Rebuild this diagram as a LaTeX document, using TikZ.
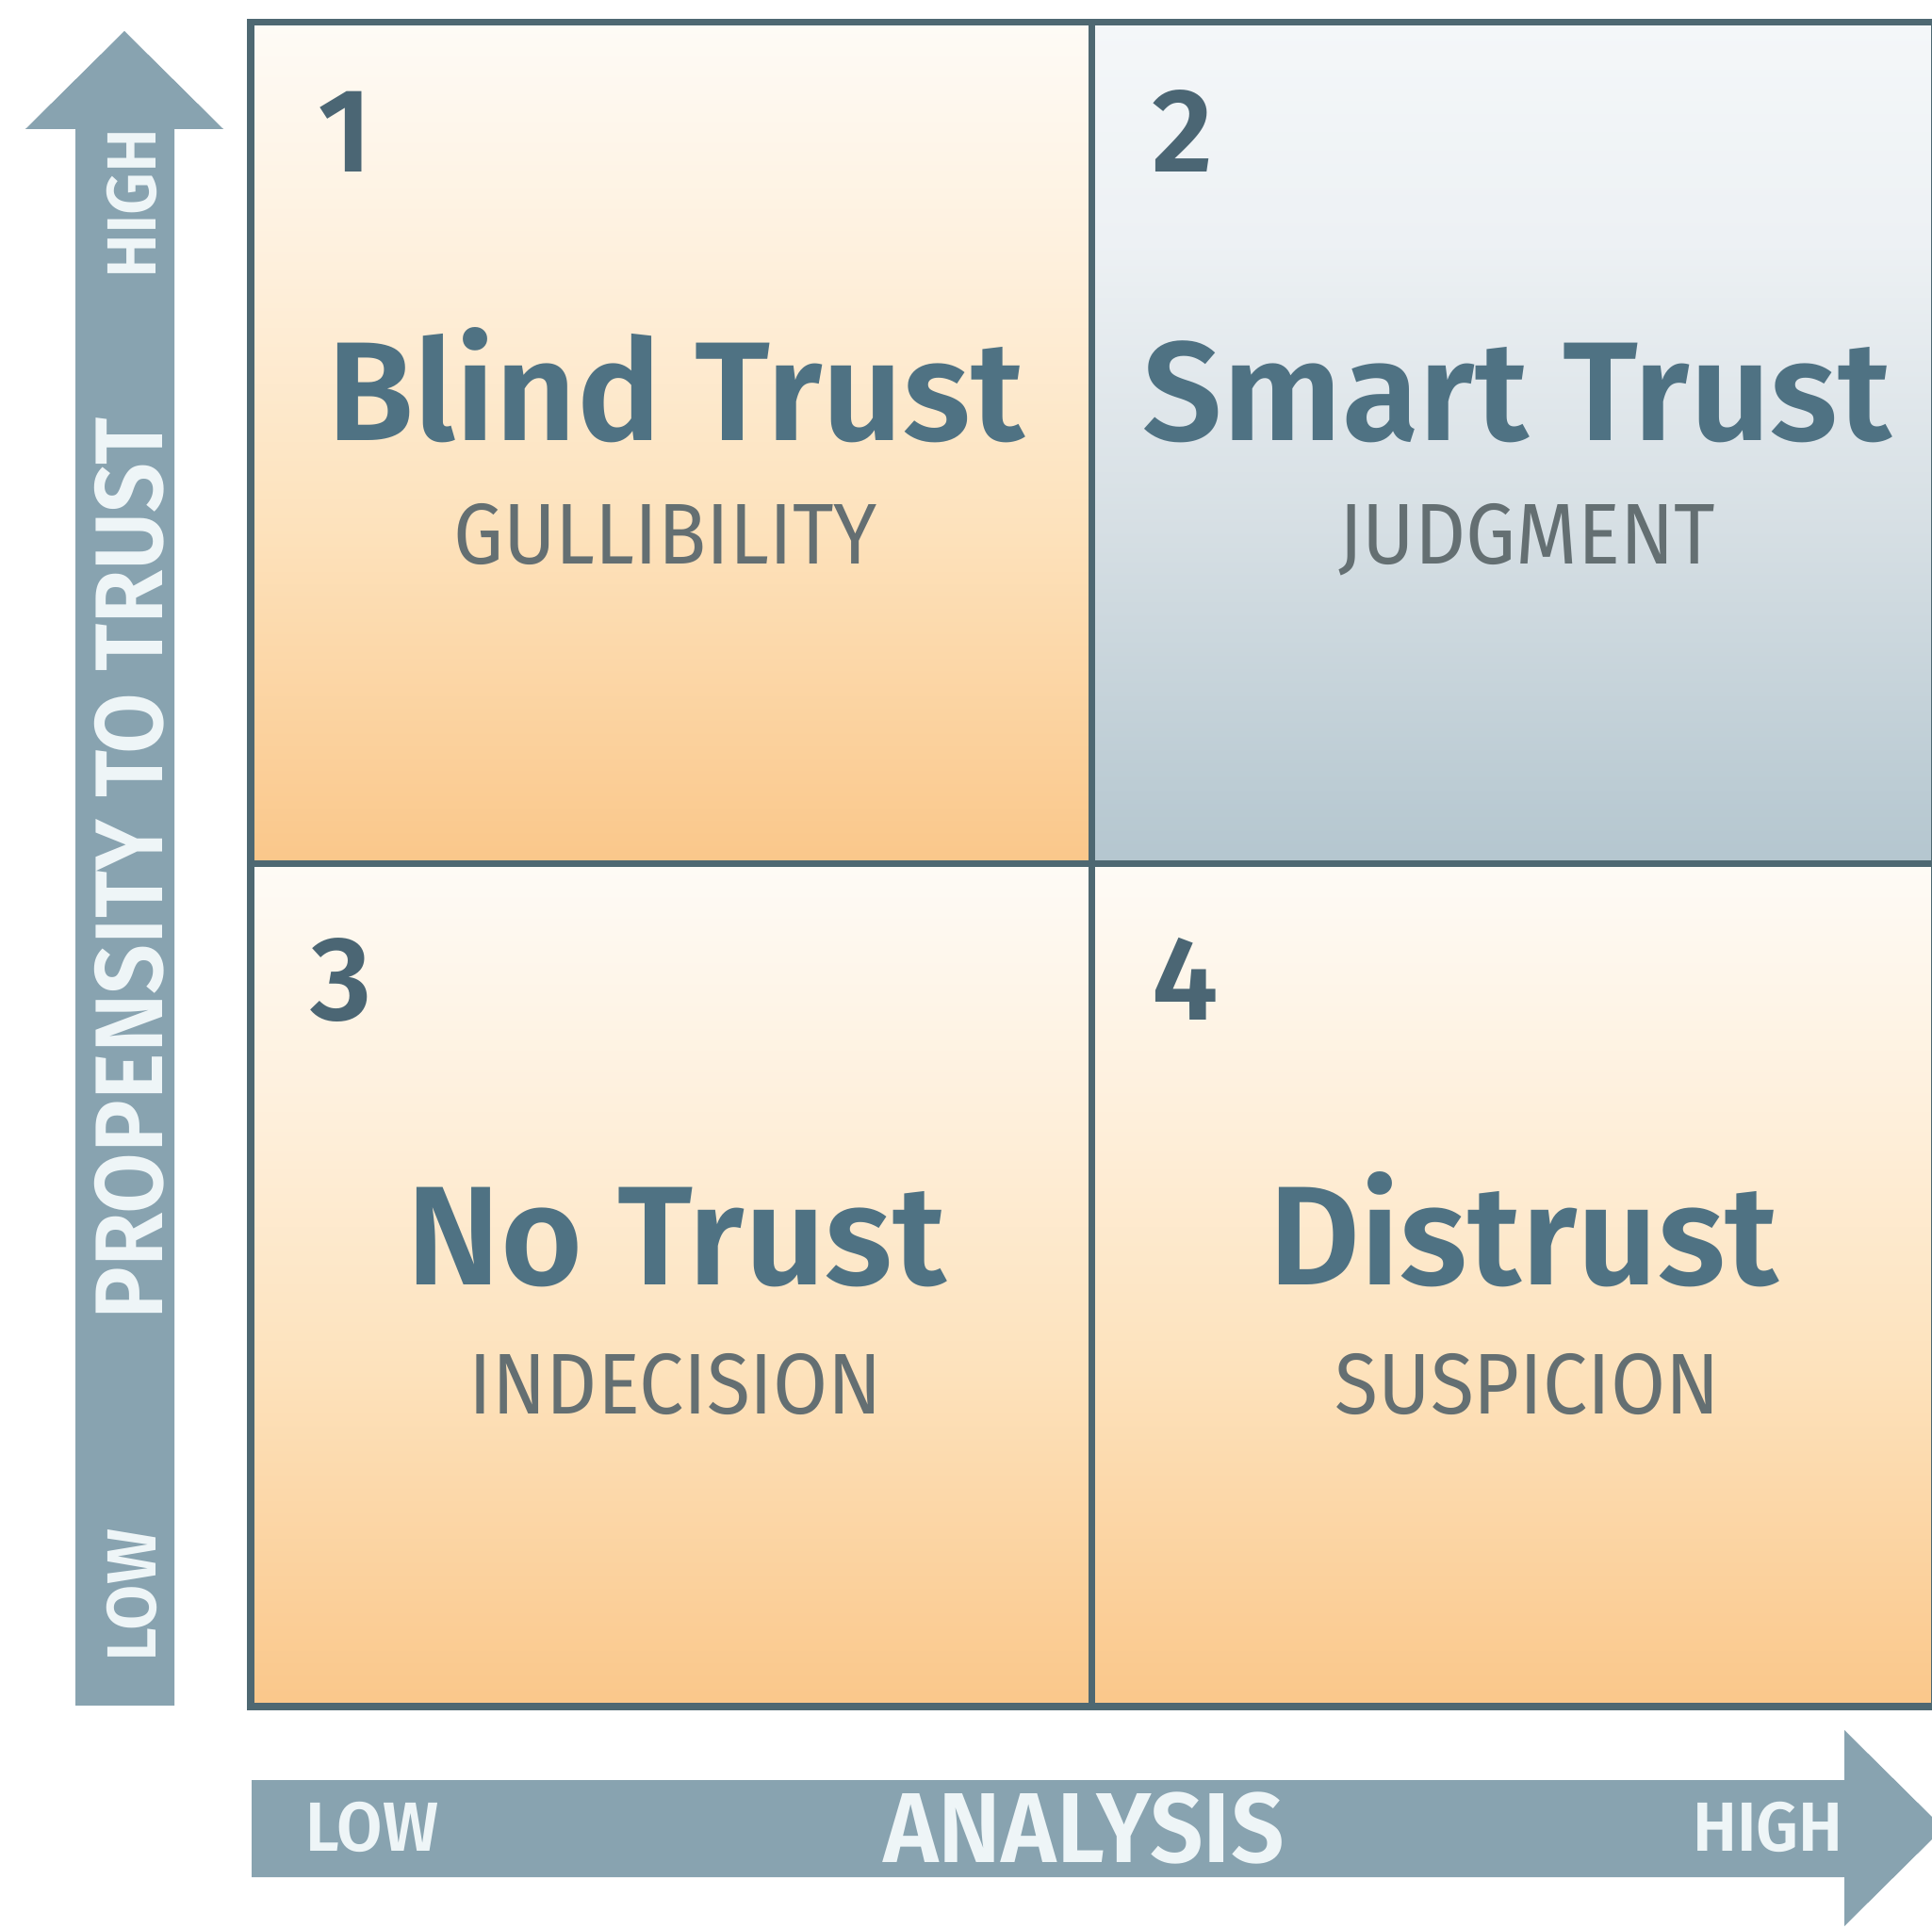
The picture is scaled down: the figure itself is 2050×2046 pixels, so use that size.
\documentclass[tikz,border=0pt]{standalone}
\usepackage{fontspec}
\setmainfont{Fira Sans}[BoldFont={Fira Sans SemiBold}]
\newfontfamily\condfont{Fira Sans}[FakeStretch=0.92, BoldFont={Fira Sans Medium}]
\newfontfamily\axisfont{Fira Sans}[FakeStretch=0.95, BoldFont={Fira Sans SemiBold}]
\newfontfamily\vaxisfont{Fira Sans}[FakeStretch=0.92, BoldFont={Fira Sans SemiBold}]

\definecolor{arrowfill}{HTML}{88A3B0}
\definecolor{arrowtext}{HTML}{EEF5F7}
\definecolor{framecol}{HTML}{4E6872}
\definecolor{titlecol}{HTML}{4F7283}
\definecolor{numcol}{HTML}{4B6674}
\definecolor{subcol}{HTML}{646F72}
\definecolor{orTop}{HTML}{FEFBF6}
\definecolor{orHigh}{HTML}{FEF1DF}
\definecolor{orMid}{HTML}{FDE2BC}
\definecolor{orBot}{HTML}{FAC78A}
\definecolor{blTop}{HTML}{F4F7F9}
\definecolor{blHigh}{HTML}{EDF1F4}
\definecolor{blMid}{HTML}{D6DFE4}
\definecolor{blBot}{HTML}{B4C6CF}

% vertical shadings: the path spans 25bp (bottom) to 75bp (top)
\pgfdeclareverticalshading{orangecell}{100bp}{%
  color(0bp)=(orBot); color(25bp)=(orBot); color(45bp)=(orMid);
  color(62bp)=(orHigh); color(75bp)=(orTop); color(100bp)=(orTop)}
\pgfdeclareverticalshading{bluecell}{100bp}{%
  color(0bp)=(blBot); color(25bp)=(blBot); color(45bp)=(blMid);
  color(62bp)=(blHigh); color(75bp)=(blTop); color(100bp)=(blTop)}

\tikzset{
  num/.style={anchor=base west, inner sep=0pt, text=numcol,
    font=\fontsize{36}{40}\selectfont\bfseries},
  title/.style={anchor=base, inner sep=0pt, text=titlecol,
    font=\fontsize{42.5}{48}\selectfont\bfseries},
  subtitle/.style={anchor=base, inner sep=0pt, text=subcol,
    font=\condfont\fontsize{26}{30}\selectfont},
  axisbig/.style={inner sep=0pt, text=arrowtext,
    font=\axisfont\fontsize{30}{34}\selectfont\bfseries},
  vaxisbig/.style={inner sep=0pt, text=arrowtext,
    font=\vaxisfont\fontsize{29}{33}\selectfont\bfseries},
  axissmall/.style={inner sep=0pt, text=arrowtext,
    font=\axisfont\fontsize{21}{25}\selectfont\bfseries},
  gridline/.style={draw=framecol, line width=0.07cm},
  axisarrow/.style={fill=arrowfill}
}

\begin{document}
\begin{tikzpicture}[x=0.01cm, y=-0.01cm]
\useasboundingbox (0,0) rectangle (2050,2046);
\fill[white] (0,0) rectangle (2050,2046);

% quadrant backgrounds
\shade[shading=orangecell] (266,24) rectangle (1158,917);
\shade[shading=bluecell] (1158,24) rectangle (2060,917);
\shade[shading=orangecell] (266,917) rectangle (1158,1811);
\shade[shading=orangecell] (1158,917) rectangle (2060,1811);

% frame and dividers
\draw[gridline] (266,24) rectangle (2052,1811);
\draw[gridline] (1158,24) -- (1158,1811);
\draw[gridline] (266,917) -- (2052,917);

% vertical axis arrow
\fill[axisarrow] (80,1810) -- (80,137) -- (27,137) -- (132,33)
  -- (237,137) -- (185,137) -- (185,1810) -- cycle;
% horizontal axis arrow
\fill[axisarrow] (267,1889) -- (1957,1889) -- (1957,1836) -- (2062,1940)
  -- (1957,2044) -- (1957,1992) -- (267,1992) -- cycle;

% axis labels
\node[vaxisbig, rotate=90] (ylabel) at (137,922) {PROPENSITY TO TRUST};
\node[axissmall, rotate=90] (yhigh) at (140,216) {HIGH};
\node[axissmall, rotate=90] (ylow) at (140,1693) {LOW};
\node[axisbig] (xlabel) at (1150,1940) {ANALYSIS};
\node[axissmall] (xlow) at (395,1939) {LOW};
\node[axissmall] (xhigh) at (1876,1939) {HIGH};

% quadrant 1
\node[num] (n1) at (337,183) {1};
\node[title] (t1) at (717,468) {Blind Trust};
\node[subtitle] (s1) at (706,599) {GULLIBILITY};
% quadrant 2
\node[num] (n2) at (1222,183) {2};
\node[title] (t2) at (1610,468) {Smart Trust};
\node[subtitle] (s2) at (1620,599) {JUDGMENT};
% quadrant 3
\node[num] (n3) at (329,1083) {3};
\node[title] (t3) at (718,1364) {No Trust};
\node[subtitle] (s3) at (717,1501) {INDECISION};
% quadrant 4
\node[num] (n4) at (1222,1083) {4};
\node[title] (t4) at (1617,1364) {Distrust};
\node[subtitle] (s4) at (1621,1501) {SUSPICION};
\end{tikzpicture}
\end{document}
